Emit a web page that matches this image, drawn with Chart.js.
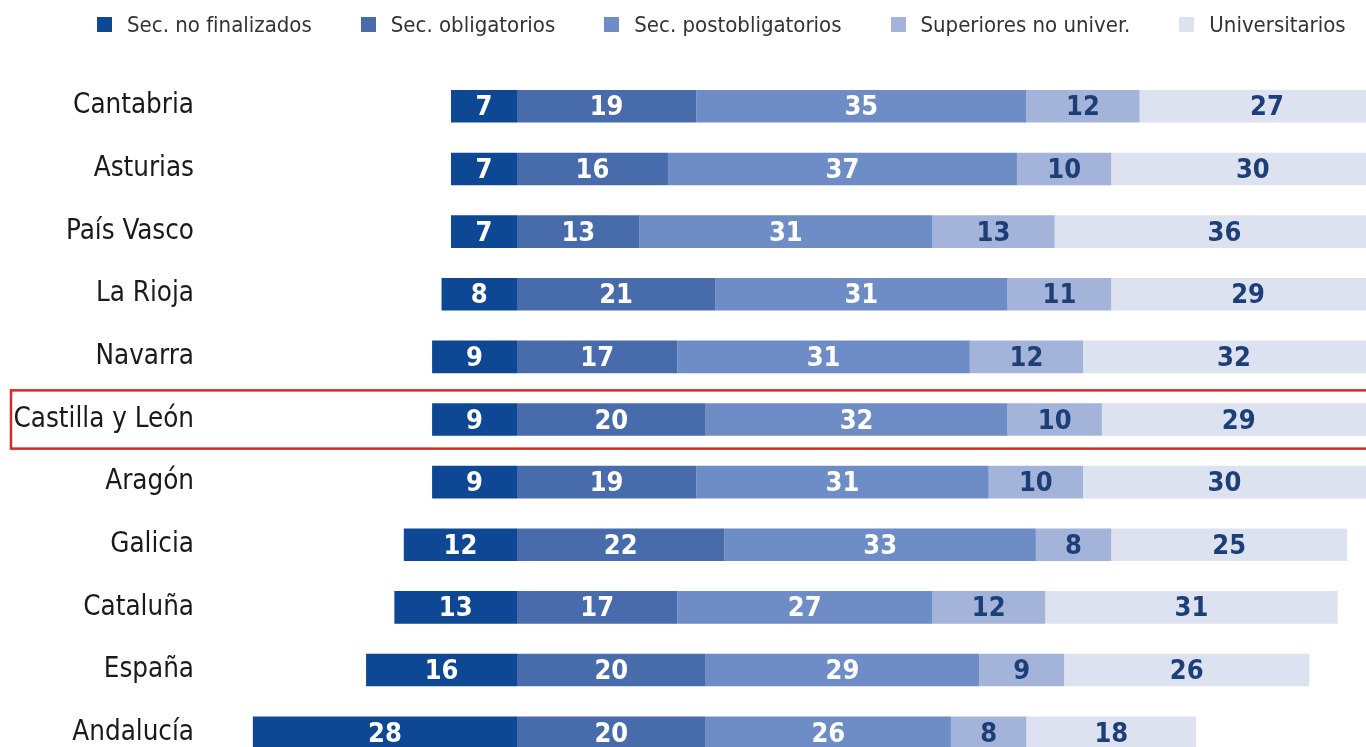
<!DOCTYPE html>
<html lang="es">
<head>
<meta charset="utf-8">
<title>Nivel de estudios por comunidad</title>
<script src="https://cdn.jsdelivr.net/npm/chart.js@4.4.1/dist/chart.umd.min.js"></script>
<style>
  html, body { margin: 0; padding: 0; background: #fff; overflow: hidden; }
  #wrap { position: relative; width: 1366px; height: 747px; overflow: hidden; }
  #chart { position: absolute; top: 0; left: 0; width: 1366px; height: 764px; }
  #legend {
    position: absolute; top: 12px; left: 97px;
    display: flex; gap: 49px; align-items: center;
    font: 22px 'DejaVu Sans Condensed', 'Liberation Sans Narrow', sans-serif;
    color: #333; white-space: nowrap;
  }
  #legend .item { display: flex; align-items: center; }
  #legend .box { width: 15px; height: 15px; margin-right: 15px; }
</style>
</head>
<body>
<div id="wrap">
  <canvas id="chart" width="1366" height="764"></canvas>
  <div id="legend"></div>
</div>
<script>
// --- Data ---
const regions = ['Cantabria', 'Asturias', 'País Vasco', 'La Rioja', 'Navarra', 'Castilla y León',
                 'Aragón', 'Galicia', 'Cataluña', 'España', 'Andalucía'];
const seriesNames = ['Sec. no finalizados', 'Sec. obligatorios', 'Sec. postobligatorios',
                     'Superiores no univer.', 'Universitarios'];
const noFinalizados    = [7, 7, 7, 8, 9, 9, 9, 12, 13, 16, 28];
const obligatorios     = [19, 16, 13, 21, 17, 20, 19, 22, 17, 20, 20];
const postobligatorios = [35, 37, 31, 31, 31, 32, 31, 33, 27, 29, 26];
const superiores       = [12, 10, 13, 11, 12, 10, 10, 8, 12, 9, 8];
const universitarios   = [27, 30, 36, 29, 32, 29, 30, 25, 31, 26, 18];
const highlight = 'Castilla y León';

const colors = ['#0e4894', '#486bab', '#6e8cc5', '#a3b3d9', '#dce2ef'];
const labelColors = ['#ffffff', '#ffffff', '#ffffff', '#1d3f78', '#1d3f78'];
const fontFamily = "'DejaVu Sans Condensed', 'Liberation Sans Narrow', sans-serif";

// first group goes to the left of the baseline
const seriesValues = [noFinalizados.map(v => -v), obligatorios, postobligatorios, superiores, universitarios];

// --- Plugins ---
const segmentLabels = {
    id: 'segmentLabels',
    afterDatasetsDraw(chart) {
        const { ctx } = chart;
        ctx.save();
        ctx.font = `bold 27px ${fontFamily}`;
        ctx.textAlign = 'center';
        ctx.textBaseline = 'middle';
        chart.data.datasets.forEach((ds, i) => {
            ctx.fillStyle = labelColors[i];
            chart.getDatasetMeta(i).data.forEach((bar, j) => {
                const { x, y, base } = bar.getProps(['x', 'y', 'base'], true);
                ctx.fillText(Math.abs(ds.data[j]), (x + base) / 2, y + 2);
            });
        });
        ctx.restore();
    }
};

const highlightRow = {
    id: 'highlightRow',
    afterDraw(chart) {
        const { ctx } = chart;
        const yScale = chart.scales.y;
        const idx = regions.indexOf(highlight);
        if (idx < 0) return;
        const cy = yScale.getPixelForValue(idx);
        const h = (yScale.getPixelForValue(1) - yScale.getPixelForValue(0)) * 0.93;
        ctx.save();
        ctx.strokeStyle = '#d9262c';
        ctx.lineWidth = 2.5;
        ctx.strokeRect(11, cy - h / 2, chart.width + 20, h);
        ctx.restore();
    }
};

// --- Chart ---
const chart = new Chart(document.getElementById('chart'), {
    type: 'bar',
    data: {
        labels: regions,
        datasets: seriesNames.map((name, i) => ({
            label: name,
            data: seriesValues[i],
            backgroundColor: colors[i],
            borderWidth: 0,
            barPercentage: 0.52,
            categoryPercentage: 1
        }))
    },
    options: {
        indexAxis: 'y',
        responsive: false,
        maintainAspectRatio: false,
        animation: false,
        layout: {
            autoPadding: false,
            padding: { top: 75, left: 0, right: 0, bottom: 0 }
        },
        plugins: {
            legend: { display: false },
            tooltip: { enabled: false }
        },
        scales: {
            x: {
                stacked: true,
                display: false,
                min: -30,
                max: 90
            },
            y: {
                stacked: true,
                grid: { display: false },
                border: { display: false },
                ticks: {
                    color: '#1a1a1a',
                    padding: 32,
                    font: { family: fontFamily, size: 27.5 }
                },
                afterFit(scale) {
                    scale.width = 234;
                    // rows should fill the whole height, no room kept for label overhang
                    scale.paddingTop = 0;
                    scale.paddingBottom = 0;
                }
            }
        }
    },
    plugins: [segmentLabels, highlightRow]
});

// --- Legend ---
const legendEl = document.getElementById('legend');
chart.data.datasets.forEach(ds => {
    const item = document.createElement('div');
    item.className = 'item';
    item.innerHTML = `<span class="box" style="background:${ds.backgroundColor}"></span><span>${ds.label}</span>`;
    legendEl.appendChild(item);
});
</script>
</body>
</html>
